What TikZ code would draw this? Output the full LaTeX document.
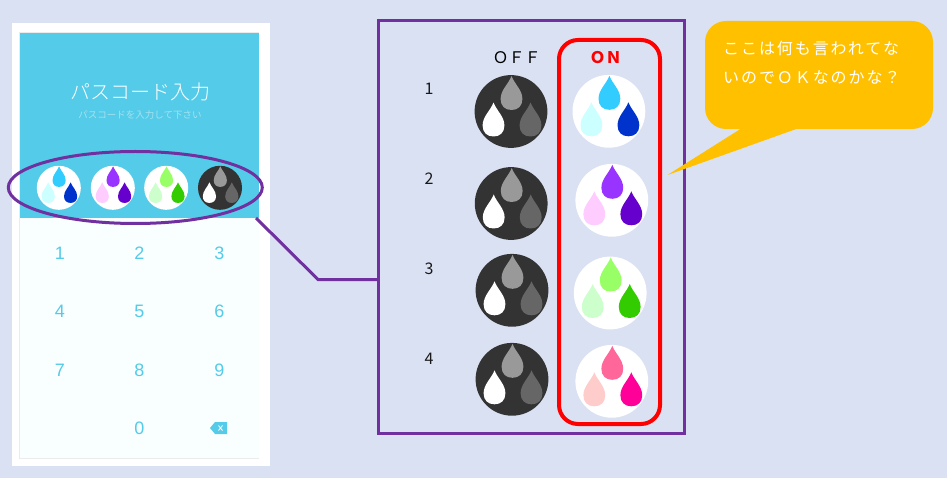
\documentclass[tikz,border=0pt]{standalone}
\usepackage{fontspec}
\usetikzlibrary{shapes.geometric}
\setmainfont{Noto Sans CJK JP}
\newfontfamily\lightfont{Noto Sans CJK JP Light}
\newfontfamily\spacedfont[LetterSpace=12]{Noto Sans CJK JP}
\newfontfamily\keyfont{Liberation Sans}
\definecolor{pagebg}{HTML}{DAE1F3}
\definecolor{headerblue}{HTML}{54CBE8}
\definecolor{keybg}{HTML}{F9FFFF}
\definecolor{panelpurple}{HTML}{7030A0}
\definecolor{calloutgold}{HTML}{FFC000}
\definecolor{subtext}{HTML}{A6E2F1}
\definecolor{dk}{HTML}{333333}
\definecolor{md}{HTML}{999999}
\definecolor{dm}{HTML}{666666}
\definecolor{aA}{HTML}{33CCFF}\definecolor{aB}{HTML}{CCFFFF}\definecolor{aC}{HTML}{0033CC}
\definecolor{bA}{HTML}{9933FF}\definecolor{bB}{HTML}{FFCCFF}\definecolor{bC}{HTML}{6600CC}
\definecolor{cA}{HTML}{99FF66}\definecolor{cB}{HTML}{CCFFCC}\definecolor{cC}{HTML}{33CC00}
\definecolor{dA}{HTML}{FF6699}\definecolor{dB}{HTML}{FFCCCC}\definecolor{dC}{HTML}{FF0099}
\newcommand{\dropshape}[3]{%
  \fill[#3] (#1,#2-17) .. controls (#1+3,#2-9) and (#1+10.9,#2-3) .. (#1+10.9,#2+6)
    .. controls (#1+10.9,#2+13) and (#1+6.5,#2+17) .. (#1,#2+17)
    .. controls (#1-6.5,#2+17) and (#1-10.9,#2+13) .. (#1-10.9,#2+6)
    .. controls (#1-10.9,#2-3) and (#1-3,#2-9) .. (#1,#2-17) -- cycle;}
% centre x, centre y, scale, disc, top, left, right
\newcommand{\dropicon}[7]{%
  \begin{scope}[shift={(#1,#2)},scale=#3]
    \fill[#4] (0,0) circle[radius=36.4];
    \dropshape{0.5}{-18.5}{#5}
    \dropshape{-17.5}{8}{#6}
    \dropshape{19.5}{8}{#7}
  \end{scope}}
\newcommand{\officon}[2]{\dropicon{#1}{#2}{1}{dk}{md}{white}{dm}}
\tikzset{
  keydigit/.style={font=\keyfont\fontsize{18}{20}\selectfont,text=headerblue,inner sep=0pt},
  rowlabel/.style={font=\fontsize{16}{20}\selectfont,text=black!90,inner sep=0pt},
  box/.style={rectangle,inner sep=0pt,outer sep=0pt}
}
\begin{document}
\begin{tikzpicture}[x=1pt,y=-1pt]
\useasboundingbox (0,0) rectangle (947,478);
\fill[pagebg] (0,0) rectangle (947,478);
% phone
\fill[white] (12,23) rectangle (270,466);
\fill[black!8] (19,32) rectangle (259,458.5);
\fill[keybg] (20,218) rectangle (259,457.5);
\fill[headerblue] (20,33) rectangle (259,218);
\node[inner sep=0pt,text=white,font=\lightfont\fontsize{20}{24}\selectfont] (title) at (140,91.5) {パスコード入力};
\node[inner sep=0pt,text=subtext,font=\fontsize{9.5}{12}\selectfont] (subtitle) at (140,115) {パスコードを入力して下さい};
\dropicon{58.8}{187.8}{0.605}{white}{aA}{aB}{aC}
\dropicon{112.8}{187.8}{0.605}{white}{bA}{bB}{bC}
\dropicon{166.2}{187.8}{0.605}{white}{cA}{cB}{cC}
\dropicon{220}{187.8}{0.605}{dk}{md}{white}{dm}
% keypad
\node[keydigit] (k1) at (59.8,253) {1};
\node[keydigit] (k2) at (139.3,253) {2};
\node[keydigit] (k3) at (219.3,253) {3};
\node[keydigit] (k4) at (59.8,311.5) {4};
\node[keydigit] (k5) at (139.3,311.5) {5};
\node[keydigit] (k6) at (219.3,311.5) {6};
\node[keydigit] (k7) at (59.8,370) {7};
\node[keydigit] (k8) at (139.3,370) {8};
\node[keydigit] (k9) at (219.3,370) {9};
\node[keydigit] (k0) at (139.3,428) {0};
\fill[headerblue] (210,428) -- (215,422) -- (227,422) -- (227,434) -- (215,434) -- cycle;
\draw[white,line width=0.8pt] (218.5,425.5) -- (222.5,430.5) (222.5,425.5) -- (218.5,430.5);
% highlight + connector
\node[box,ellipse,draw=panelpurple,line width=3pt,minimum width=254pt,minimum height=72pt] (ring) at (135.3,187.5) {};
\node[box,draw=panelpurple,line width=3pt,minimum width=306pt,minimum height=413pt] (panel) at (531.5,227) {};
\coordinate (start) at (256,218);
\coordinate (elbow) at (318,279.5);
\draw[panelpurple,line width=3pt] (start) -- (elbow) -- (panel.west |- elbow);
% ON frame
\node[box,draw=red,line width=4pt,rounded corners=19pt,minimum width=101pt,minimum height=384pt] (onframe) at (609.5,232) {};
% headers
\node[inner sep=0pt,text=black,font=\fontsize{16}{20}\selectfont] (offlabel) at (516.5,58) {ＯＦＦ};
\node[inner sep=0pt,text=red,font=\bfseries\fontsize{16}{20}\selectfont] (onlabel) at (605.5,58) {ＯＮ};
\node[rowlabel] (r1) at (429,89) {1};
\node[rowlabel] (r2) at (429,179) {2};
\node[rowlabel] (r3) at (429,269) {3};
\node[rowlabel] (r4) at (429,358.5) {4};
% icons
\officon{511}{111.5}
\officon{511.2}{203.5}
\officon{512}{290.3}
\officon{512}{379.3}
\dropicon{608.9}{111.3}{1}{white}{aA}{aB}{aC}
\dropicon{611.8}{200.3}{1}{white}{bA}{bB}{bC}
\dropicon{610.2}{293}{1}{white}{cA}{cB}{cC}
\dropicon{611.8}{381.3}{1}{white}{dA}{dB}{dC}
% callout
\fill[calloutgold,rounded corners=21pt] (705,21) rectangle (933,129);
\coordinate (tip) at (667.5,175);
\fill[calloutgold] (742,128) -- (tip) -- (799,128) -- cycle;
\node[inner sep=0pt,anchor=west,text=white,font=\spacedfont\fontsize{16}{20}\selectfont] (say1) at (723,48) {ここは何も言われてな};
\node[inner sep=0pt,anchor=west,text=white,font=\spacedfont\fontsize{16}{20}\selectfont] (say2) at (723,77.5) {いのでＯＫなのかな？};
\end{tikzpicture}
\end{document}
